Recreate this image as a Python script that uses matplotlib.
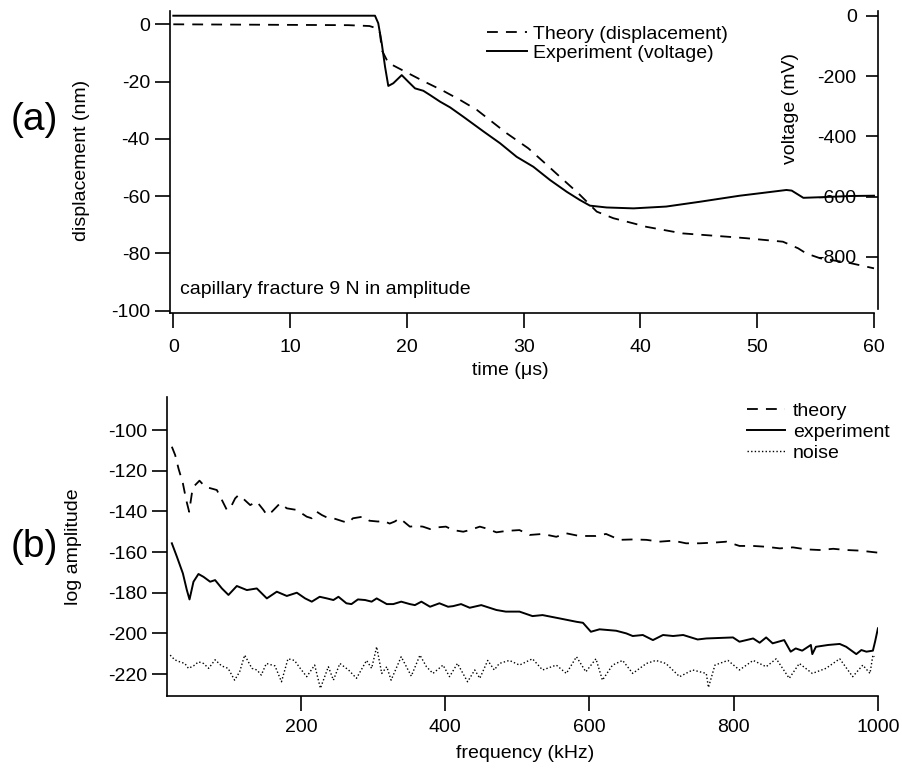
import matplotlib
matplotlib.use("Agg")
import matplotlib.pyplot as plt

plt.rcParams['font.family'] = ['Liberation Sans', 'DejaVu Sans']
plt.rcParams['font.size'] = 14
plt.rcParams['axes.unicode_minus'] = False

W, H = 903, 769

# (a) time domain, theory in nm, experiment in mV
theory_t = [0, 5, 10, 15, 16.8, 17.5, 17.7, 17.85, 18.4, 18.85,
            19.84, 21.4, 23.1, 24.55, 26, 28.55, 30.4, 31.83, 33.26, 34.68,
            35.4, 36.26, 37.68, 39.4, 40.5, 43.6, 47.9, 49.1, 52.2, 53.5,
            54.2, 55.4, 58, 60]
theory_nm = [0, -0.1, -0.2, -0.3, -0.6, -1.5, -3.1, -9, -13.4, -14.4,
             -16.5, -19.8, -23.2, -26.4, -29.9, -38.05, -43.3, -48.5, -53.8, -59,
             -61.9, -65.4, -67.7, -69.5, -70.7, -73, -74.3, -74.7, -75.9, -78.2,
             -80, -81.7, -83.4, -85.2]

exp_t = [0, 5, 10, 15, 17.27, 17.55, 17.85, 18.13, 18.41, 18.84,
         19.56, 20.12, 20.7, 21.41, 21.98, 22.84, 23.7, 24.83, 26.6, 27.98,
         29.4, 30.83, 32.26, 33.69, 34.8, 35.68, 37.1, 39.4, 40.8, 42.2,
         45.1, 48.5, 50.2, 52.5, 52.95, 53.95, 55.4, 58, 60]
exp_mv = [0, 0, 0, 0, 0, -25, -92, -169, -233, -224,
          -197, -219, -241, -249, -263, -285, -304, -335, -385, -423,
          -468, -501, -545, -584, -611, -630, -636, -639, -636, -633,
          -617, -597, -589, -578, -580, -604, -602, -598, -597]

# (b) spectra
theory_f = [21, 25.6, 30.2, 36.3, 40.9, 45, 48.8, 51, 59.3, 67.2,
            83.4, 90.4, 97.3, 101.9, 108.8, 113.4, 118, 129.6, 138.8, 148,
            152.7, 159.6, 171.1, 180.4, 194.3, 201.2, 208, 215, 222, 229,
            236, 245, 259, 266, 272, 286, 295, 307, 314, 323,
            330, 337, 351, 360, 369, 379, 388, 401, 411, 425,
            434, 448, 457, 471, 485, 503, 517, 535, 554, 568,
            586, 609, 623, 642, 660, 679, 697, 716, 734, 753,
            771, 790, 808, 827, 845, 864, 882, 901, 919, 938,
            956, 975, 1000]
theory_amp = [-108.2, -112.3, -118.9, -126.2, -134.4, -140.2, -131.1, -127.9, -124.9, -127.9,
              -129.5, -134.4, -139.3, -138.5, -133.6, -132, -133.1, -136.9, -135.2, -139.3,
              -141.8, -140.2, -136, -138.5, -139.3, -141, -142.6, -143.4, -140.2, -141.8,
              -143, -143.4, -145, -145.6, -143.4, -142.6, -144.6, -145, -144.6, -146,
              -145, -143.4, -147.5, -147.2, -147.5, -148.7, -147.9, -147.5, -149.2, -150,
              -149.2, -147.5, -148.4, -150.3, -149.6, -149.2, -151.6, -151.1, -152.5, -150.8,
              -152.1, -152.1, -151.1, -154, -153.8, -154, -154.9, -154.4, -155.7, -155.7,
              -155.4, -154.9, -157, -157, -157.4, -158.2, -157.7, -158.7, -159, -158.4,
              -159, -159.3, -160.3]

exp_f = [21, 28, 36.3, 41.8, 45.5, 51, 57.9, 64.9, 74.1, 81,
         90.4, 99.5, 111.1, 125, 138.8, 152.7, 166.5, 180.4, 194.3, 205.8,
         215, 226, 236, 245, 252, 263, 270, 279, 289, 298,
         305, 319, 328, 339, 351, 358, 367, 379, 392, 404,
         411, 422, 434, 450, 457, 471, 484, 503, 521, 535,
         558, 582, 591, 602, 614, 637, 651, 660, 674, 688,
         702, 716, 730, 750, 762, 799, 808, 827, 836, 845,
         854, 870, 879, 886, 895, 907, 909, 914, 931, 947,
         956, 970, 977, 984, 993, 996, 1000]
exp_amp = [-155.7, -162.3, -170.5, -178.7, -183.3, -174.6, -170.8, -172.2, -174.6, -173.8,
           -177.9, -181.1, -176.7, -178.7, -177.9, -182.8, -179.5, -181.6, -180, -182.8,
           -184.4, -182, -182.8, -183.6, -182, -185.2, -185.6, -183.3, -183.6, -184.4,
           -182.8, -185.6, -185.6, -184.4, -185.6, -186.1, -184.4, -186.9, -185.2, -186.9,
           -186.6, -185.6, -187.4, -186.1, -186.9, -188.5, -189.3, -189.3, -191.5, -191,
           -192.6, -194.3, -194.8, -199.2, -198, -198.7, -200, -201.3, -200.8, -203.3,
           -200.8, -201.3, -200.8, -203, -202.5, -202, -204.1, -202.5, -204.6, -202,
           -204.9, -203.3, -209, -207.4, -208.5, -205.7, -210.2, -206.6, -205.7, -205.2,
           -206.6, -210.2, -208.2, -209, -208.5, -204.1, -197.5]

noise_f = [18.7, 25, 32, 39, 44, 51, 58, 65, 72, 81,
           90, 99, 108, 115, 122, 132, 139, 145, 152, 164,
           173, 182, 191, 199, 208, 219, 227, 238, 245, 254,
           266, 277, 291, 298, 305, 312, 319, 325, 339, 353,
           365, 374, 383, 397, 406, 417, 431, 441, 448, 459,
           468, 475, 489, 503, 521, 535, 554, 568, 582, 595,
           609, 618, 632, 646, 660, 679, 692, 706, 725, 743,
           762, 765, 774, 792, 808, 827, 845, 859, 877, 891,
           909, 928, 947, 965, 979, 989, 993, 995]
noise_amp = [-210.7, -213, -214, -214.8, -217.2, -216, -214, -214.8, -217.2, -213,
             -216, -217.2, -223, -218.9, -210.7, -217.2, -218, -220.5, -214.8, -216,
             -223.8, -212.5, -213.3, -217.2, -221.3, -215.6, -227, -216.4, -223, -214.8,
             -218, -222.1, -213.3, -217.2, -206.6, -219.7, -216.4, -223, -211.5, -221,
             -210.7, -216.4, -219.7, -215.6, -221.3, -214.8, -223.8, -218, -222.1, -213.3,
             -218, -214.8, -213.3, -215.6, -212.5, -218, -215.6, -219.7, -211.5, -218.9,
             -212.5, -223, -215.6, -213.3, -219.7, -214.8, -213.3, -214.8, -221.3, -218,
             -219.7, -226.6, -215.6, -213.3, -218, -213.3, -216.4, -212.5, -222.1, -214.8,
             -219.7, -217.2, -212.5, -221.3, -215.6, -219.7, -210.7, -211.5]


def fx(x):
    return x / W


def fy(y):
    return 1 - y / H


fig = plt.figure(figsize=(W / 100, H / 100), dpi=100)

# ---- panel (a)
ax = fig.add_axes([fx(170), fy(313.3), fx(877.7 - 170), (313.3 - 10.7) / H])
ax2 = ax.twinx()
ax.set_xlim(-0.283, 60.317)
ax.set_ylim(-100.9, 4.75)
ax2.set_ylim(-987, 16.6)

l1, = ax.plot(theory_t, theory_nm, color='black', lw=1.3, dashes=(6, 4.5),
              label='Theory (displacement)')
l2, = ax2.plot(exp_t, exp_mv, color='black', lw=1.4, label='Experiment (voltage)')

for s in ['top', 'right']:
    ax.spines[s].set_visible(False)
for s in ['top', 'left', 'bottom']:
    ax2.spines[s].set_visible(False)
ax.spines['bottom'].set_bounds(-0.283, 60)
ax2.spines['right'].set_bounds(-974, 16.6)
for sp in [ax.spines['left'], ax.spines['bottom'], ax2.spines['right']]:
    sp.set_linewidth(1.2)

ax.set_xticks(range(0, 61, 10))
ax.set_yticks(range(-100, 1, 20))
ax2.set_yticks(range(-800, 1, 200))
ax.tick_params(axis='x', direction='out', length=10.8, width=1.2, pad=8)
ax.tick_params(axis='y', direction='out', length=10.8, width=1.2, pad=3.6)
ax2.tick_params(axis='y', direction='in', length=9, width=1.2, pad=-15.1)
for lab in ax2.get_yticklabels():
    lab.set_horizontalalignment('right')

ax.legend(handles=[l1, l2], loc='upper left', bbox_to_anchor=(fx(487), fy(25)),
          bbox_transform=fig.transFigure, frameon=False, borderpad=0,
          borderaxespad=0, handlelength=2.06, handletextpad=0.3,
          labelspacing=0.09, fontsize=14)

fig.text(fx(180), fy(290), 'capillary fracture 9 N in amplitude', fontsize=14,
         ha='left', va='center')
fig.text(fx(34), fy(120), '(a)', fontsize=28, ha='center', va='center')
fig.text(fx(81), fy(160), 'displacement (nm)', fontsize=14, rotation=90,
         ha='center', va='center')
fig.text(fx(791), fy(108), 'voltage (mV)', fontsize=14, rotation=90,
         ha='center', va='center')
fig.text(fx(510), fy(370), 'time (\u03bcs)', fontsize=14, ha='center', va='center')

# ---- panel (b)
bx = fig.add_axes([fx(167.3), fy(696), fx(878.3 - 167.3), (696 - 396.7) / H])
bx.set_xlim(14.7, 1000.5)
bx.set_ylim(-230.8, -83.6)

t1, = bx.plot(theory_f, theory_amp, color='black', lw=1.3, dashes=(6, 4.5), label='theory')
t2, = bx.plot(exp_f, exp_amp, color='black', lw=1.4, label='experiment')
t3, = bx.plot(noise_f, noise_amp, color='black', lw=1.0, linestyle=(0, (1, 1.6)), label='noise')

for s in ['top', 'right']:
    bx.spines[s].set_visible(False)
for s in ['left', 'bottom']:
    bx.spines[s].set_linewidth(1.2)
bx.set_xticks(range(200, 1001, 200))
bx.set_yticks(range(-220, -99, 20))
bx.tick_params(axis='x', direction='out', length=10.8, width=1.2, pad=6)
bx.tick_params(axis='y', direction='out', length=10.8, width=1.2, pad=3.6)

bx.legend(handles=[t1, t2, t3], loc='upper left', bbox_to_anchor=(fx(746.7), fy(402)),
          bbox_transform=fig.transFigure, frameon=False, borderpad=0,
          borderaxespad=0, handlelength=1.97, handletextpad=0.41,
          labelspacing=0.175, fontsize=14)

fig.text(fx(34.5), fy(547), '(b)', fontsize=28, ha='center', va='center')
fig.text(fx(74), fy(547), 'log amplitude', fontsize=14, rotation=90,
         ha='center', va='center')
fig.text(fx(525), fy(753), 'frequency (kHz)', fontsize=14, ha='center', va='center')

fig.savefig('out.png', dpi=100)
